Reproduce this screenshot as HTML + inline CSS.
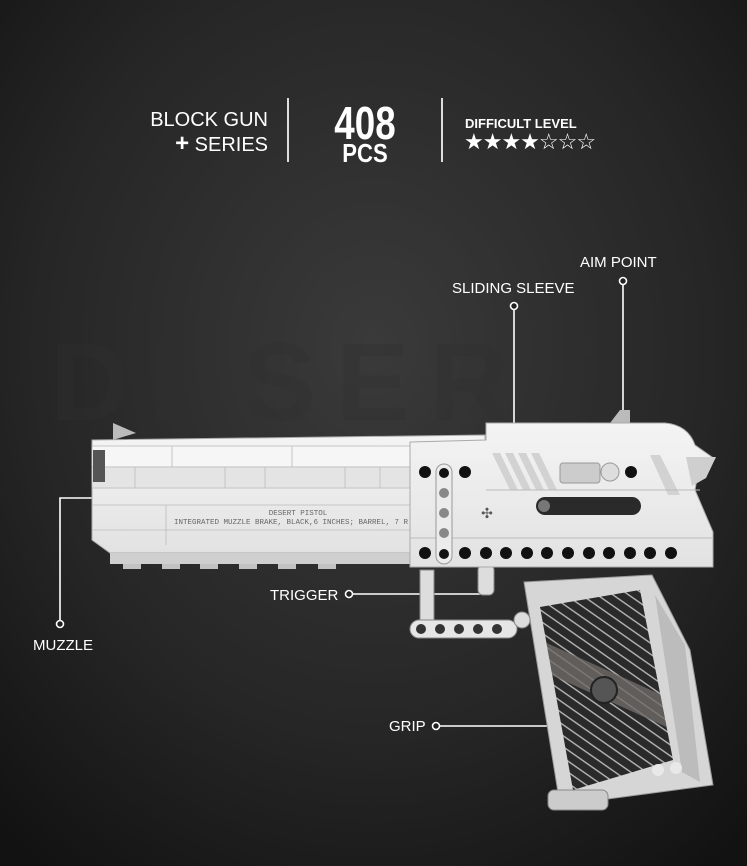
<!DOCTYPE html>
<html><head><meta charset="utf-8"><style>
html,body{margin:0;padding:0;background:#1a1a1a;}
svg{display:block;}
text{font-family:"Liberation Sans",sans-serif;}
text.mono{font-family:"Liberation Mono",monospace;}
</style></head><body>
<svg width="747" height="866" viewBox="0 0 747 866" xmlns="http://www.w3.org/2000/svg">
<defs>
<radialGradient id="bg" cx="0.5" cy="0.4" r="0.75">
<stop offset="0" stop-color="#3a3a3a"/><stop offset="0.6" stop-color="#262626"/><stop offset="1" stop-color="#121212"/>
</radialGradient>
<linearGradient id="body" x1="0" y1="0" x2="0" y2="1">
<stop offset="0" stop-color="#f4f4f4"/><stop offset="1" stop-color="#e2e2e2"/>
</linearGradient>
<pattern id="stripe" width="9" height="9" patternUnits="userSpaceOnUse" patternTransform="rotate(35)">
<rect width="9" height="9" fill="#2a2a2a"/><rect width="9" height="1.4" fill="#b5b5b5"/>
</pattern>
<clipPath id="gp"><polygon points="540,607 640,590 673,760 573,790"/></clipPath>
</defs>
<rect width="747" height="866" fill="url(#bg)"/>
<text x="50" y="420" font-size="110" font-weight="bold" fill="#303030" opacity="0.35" letter-spacing="20">DESERT</text>

<!-- header -->
<text x="268" y="126" font-size="20" fill="#fff" text-anchor="end">BLOCK GUN</text>
<text x="268" y="151" font-size="20" fill="#fff" text-anchor="end"><tspan font-weight="bold" font-size="24">+</tspan> SERIES</text>
<rect x="287" y="98" width="2" height="64" fill="#ddd"/>
<rect x="441" y="98" width="2" height="64" fill="#ddd"/>
<text x="365" y="139" font-size="46" font-weight="bold" fill="#fff" text-anchor="middle" transform="translate(365 0) scale(0.8 1) translate(-365 0)">408</text>
<text x="365" y="162" font-size="26" font-weight="bold" fill="#fff" text-anchor="middle" transform="translate(365 0) scale(0.85 1) translate(-365 0)">PCS</text>
<text x="465" y="128" font-size="13" font-weight="bold" fill="#fff">DIFFICULT LEVEL</text>
<text x="464" y="149" font-size="22" fill="#fff" letter-spacing="-1">★★★★☆☆☆</text>

<!-- callouts -->
<g fill="#fff" font-size="15">
<text x="580" y="267">AIM POINT</text>
<text x="452" y="293">SLIDING SLEEVE</text>
<text x="270" y="600">TRIGGER</text>
<text x="33" y="650">MUZZLE</text>
<text x="389" y="731">GRIP</text>
</g>
<g stroke="#fff" stroke-width="1.6" fill="none">
<line x1="623" y1="285" x2="623" y2="420"/><circle cx="623" cy="281" r="3.5" fill="#222"/>
<line x1="514" y1="310" x2="514" y2="440"/><circle cx="514" cy="306" r="3.5" fill="#222"/>
<polyline points="60,620 60,498 92,498"/><circle cx="60" cy="624" r="3.5" fill="#222"/>
<line x1="353" y1="594" x2="485" y2="594"/><circle cx="349" cy="594" r="3.5" fill="#222"/>
<line x1="440" y1="726" x2="575" y2="726"/><circle cx="436" cy="726" r="3.5" fill="#222"/>
</g>

<!-- grip -->
<polygon points="524,582 652,575 690,650 713,785 600,800 560,805" fill="#d6d6d6" stroke="#999"/>
<polygon points="655,595 685,645 700,782 682,772" fill="#bcbcbc"/>
<g clip-path="url(#gp)"><rect x="530" y="580" width="150" height="220" fill="url(#stripe)"/>
<polygon points="540,640 673,700 673,730 540,670" fill="#6e6a66" opacity="0.8"/></g>
<circle cx="604" cy="690" r="13" fill="#555" stroke="#222" stroke-width="2"/>
<rect x="548" y="790" width="60" height="20" rx="6" fill="#ccc" stroke="#888"/>
<circle cx="658" cy="770" r="6" fill="#e8e8e8"/><circle cx="676" cy="768" r="6" fill="#e8e8e8"/>

<!-- trigger -->
<rect x="420" y="570" width="14" height="58" fill="#ddd" stroke="#888"/>
<rect x="478" y="565" width="16" height="30" rx="5" fill="#ddd" stroke="#888"/>
<rect x="410" y="620" width="107" height="18" rx="9" fill="#e6e6e6" stroke="#888"/>
<g fill="#333"><circle cx="421" cy="629" r="5"/><circle cx="440" cy="629" r="5"/><circle cx="459" cy="629" r="5"/><circle cx="478" cy="629" r="5"/><circle cx="497" cy="629" r="5"/></g>
<circle cx="522" cy="620" r="8" fill="#ddd" stroke="#888"/>

<!-- barrel -->
<polygon points="113,423 136,433 113,440" fill="#bbb"/>
<polygon points="92,440 485,435 485,553 110,553 92,540" fill="url(#body)" stroke="#aaa"/>
<rect x="92" y="446" width="392" height="21" fill="#f6f6f6" stroke="#bbb" stroke-width="0.8"/>
<rect x="92" y="467" width="392" height="21" fill="#e4e4e4" stroke="#bbb" stroke-width="0.8"/>
<g stroke="#bbb" stroke-width="0.8"><line x1="172" y1="446" x2="172" y2="467"/><line x1="292" y1="446" x2="292" y2="467"/><line x1="135" y1="467" x2="135" y2="488"/><line x1="225" y1="467" x2="225" y2="488"/><line x1="265" y1="467" x2="265" y2="488"/><line x1="345" y1="467" x2="345" y2="488"/><line x1="380" y1="467" x2="380" y2="488"/><line x1="92" y1="505" x2="485" y2="505"/><line x1="92" y1="530" x2="485" y2="530"/><line x1="166" y1="505" x2="166" y2="545"/></g>
<rect x="93" y="450" width="12" height="32" fill="#555"/>
<rect x="110" y="553" width="300" height="11" fill="#cfcfcf"/>
<g fill="#c2c2c2"><rect x="123" y="564" width="18" height="5"/><rect x="162" y="564" width="18" height="5"/><rect x="200" y="564" width="18" height="5"/><rect x="239" y="564" width="18" height="5"/><rect x="278" y="564" width="18" height="5"/><rect x="318" y="564" width="18" height="5"/></g>
<text class="mono" x="298" y="515" font-size="7.5" fill="#666" text-anchor="middle">DESERT PISTOL</text>
<text class="mono" x="174" y="524" font-size="7.5" fill="#666">INTEGRATED MUZZLE BRAKE, BLACK,6 INCHES; BARREL, 7 R  S</text>

<!-- slide rear -->
<polygon points="610,423 620,410 630,410 630,423" fill="#bbb"/>
<path d="M410,442 L486,440 L486,423 L665,423 Q688,425 695,445 L712,457 L700,460 L695,490 L713,532 L713,567 L410,567 Z" fill="url(#body)" stroke="#aaa"/>
<polygon points="686,457 716,457 706,478 692,486" fill="#cfcfcf"/>
<g fill="#d2d2d2"><polygon points="492,453 500,453 518,490 510,490"/><polygon points="505,453 513,453 531,490 523,490"/><polygon points="518,453 526,453 544,490 536,490"/><polygon points="531,453 539,453 557,490 549,490"/><polygon points="650,455 660,455 680,495 668,495"/></g>
<line x1="486" y1="490" x2="700" y2="490" stroke="#bbb"/>
<line x1="410" y1="538" x2="713" y2="538" stroke="#bbb"/>
<rect x="560" y="463" width="40" height="20" rx="3" fill="#ccc" stroke="#999"/>
<circle cx="610" cy="472" r="9" fill="#ddd" stroke="#999"/>
<circle cx="631" cy="472" r="6" fill="#111"/>
<rect x="536" y="497" width="105" height="18" rx="9" fill="#2a2a2a"/>
<circle cx="544" cy="506" r="6" fill="#777"/>
<text x="487" y="518" font-size="14" fill="#555" text-anchor="middle">✣</text>
<g fill="#111"><circle cx="425" cy="472" r="6"/><circle cx="465" cy="472" r="6"/>
<circle cx="425" cy="553" r="6"/><circle cx="465" cy="553" r="6"/><circle cx="486" cy="553" r="6"/><circle cx="506" cy="553" r="6"/><circle cx="527" cy="553" r="6"/><circle cx="547" cy="553" r="6"/><circle cx="568" cy="553" r="6"/><circle cx="589" cy="553" r="6"/><circle cx="609" cy="553" r="6"/><circle cx="630" cy="553" r="6"/><circle cx="650" cy="553" r="6"/><circle cx="671" cy="553" r="6"/></g>
<rect x="436" y="464" width="16" height="100" rx="8" fill="#ececec" stroke="#999"/>
<g fill="#888"><circle cx="444" cy="473" r="5" fill="#111"/><circle cx="444" cy="493" r="5"/><circle cx="444" cy="513" r="5"/><circle cx="444" cy="533" r="5"/><circle cx="444" cy="554" r="5" fill="#111"/></g>
</svg>
</body></html>
